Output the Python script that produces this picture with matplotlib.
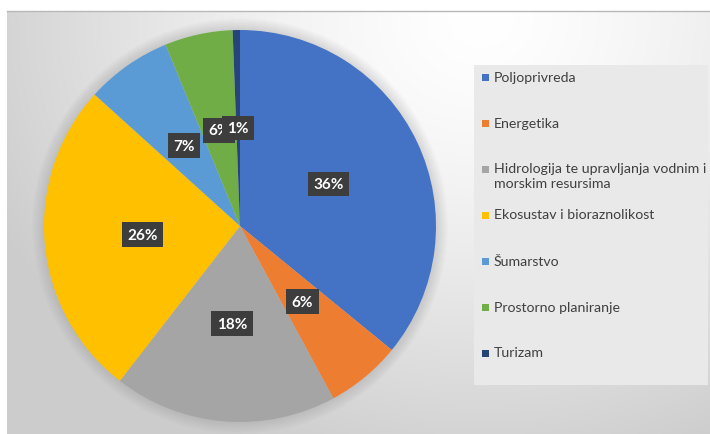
import numpy as np
import matplotlib
matplotlib.use("Agg")
import matplotlib.pyplot as plt
from matplotlib.patches import Rectangle, Circle

# ========== data (shares in %) ==========
categories = [
    "Poljoprivreda",
    "Energetika",
    "Hidrologija te upravljanja vodnim i\nmorskim resursima",
    "Ekosustav i bioraznolikost",
    "Šumarstvo",
    "Prostorno planiranje",
    "Turizam",
]
shares = [35.9, 6.2, 18.4, 26.2, 7.1, 5.6, 0.6]
colors = ["#4472C4", "#ED7D31", "#A5A5A5", "#FFC000", "#5B9BD5", "#70AD47", "#264478"]

W, H = 710, 435
plt.rcParams["font.family"] = ["Lato", "DejaVu Sans"]

fig = plt.figure(figsize=(W / 100, H / 100), dpi=100)
fig.patch.set_facecolor("white")

# ========== background: radial grey gradient ==========
bx0, by0 = 7, 12  # px, top-left of chart area
bg = fig.add_axes([bx0 / W, 0, (W - bx0) / W, (H - by0) / H], zorder=-5)
yy, xx = np.mgrid[by0:H, bx0:W]
cx, cy = 480, 20
d = np.sqrt((xx - cx) ** 2 + ((yy - cy) * 1.15) ** 2)
g = 1.0 - 0.2 * np.clip(d / 540, 0, 1) ** 1.4
bg.imshow(np.dstack([g, g, g]), aspect="auto", interpolation="bilinear")
bg.set_axis_off()
fig.add_artist(plt.Line2D([bx0 / W, 1], [(H - by0) / H] * 2, color="#b8b8b8", lw=1))

# ========== pie ==========
pcx, pcy, r = 240, 227, 196
pad = 1.06
ax = fig.add_axes([(pcx - r * pad) / W, (H - pcy - r * pad) / H,
                   2 * r * pad / W, 2 * r * pad / H])
ax.set_facecolor("none")

# soft shadow around the pie
for k in range(10):
    ax.add_patch(Circle((0, 0), 1.0 + 0.006 * (10 - k), color="#7a7a7a",
                        alpha=0.025, lw=0, zorder=0))

wedges, texts, autotexts = ax.pie(
    shares, colors=colors, startangle=90, counterclock=False,
    autopct="%1.0f%%", pctdistance=0.5,
    wedgeprops=dict(linewidth=0),
    textprops=dict(color="white", fontsize=11, fontweight="bold"),
)
for t in autotexts:
    t.set_bbox(dict(boxstyle="square,pad=0.35", fc="#3d3d3d", ec="none"))
ax.set_xlim(-pad, pad)
ax.set_ylim(-pad, pad)
ax.set_axis_off()

# ========== legend ==========
lx0, ly0, lx1, ly1 = 474, 66, 708, 386
fig.add_artist(Rectangle((lx0 / W, 1 - ly1 / H), (lx1 - lx0) / W, (ly1 - ly0) / H,
                         transform=fig.transFigure, fc="#e9e9e9", ec="none", zorder=1))
step = 46
for i, (lab, col) in enumerate(zip(categories, colors)):
    y = 78 + i * step  # centre of first text line, px from top
    fig.add_artist(Rectangle((482 / W, 1 - (y + 3.5) / H), 7 / W, 7 / H,
                             transform=fig.transFigure, fc=col, ec="none", zorder=2))
    fig.text(494 / W, 1 - (y - 6.5) / H, lab, fontsize=10.2, color="#404040",
             va="top", ha="left", linespacing=1.3, zorder=3)

fig.savefig("out.png", dpi=100)
